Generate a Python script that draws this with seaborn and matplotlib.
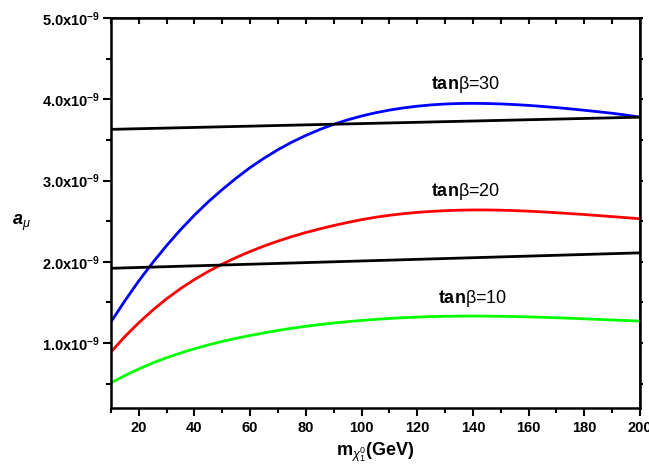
import numpy as np
import pandas as pd
import matplotlib
matplotlib.use("Agg")
import matplotlib.pyplot as plt
from matplotlib.ticker import MultipleLocator, FuncFormatter
import seaborn as sns

# Data (a_mu in units of 1e-9)
mass = [10, 15, 20, 25, 30, 35, 40, 45, 50, 55, 60, 65, 70, 75, 80, 85, 90, 95, 100,
        105, 110, 115, 120, 125, 130, 135, 140, 145, 150, 155, 160, 165, 170, 175, 180,
        185, 190, 195, 200]
tb30 = [1.26, 1.52, 1.765, 1.99, 2.20, 2.395, 2.575, 2.74, 2.89, 3.03, 3.16, 3.275, 3.38, 3.473,
        3.555, 3.628, 3.692, 3.747, 3.794, 3.834, 3.867, 3.894, 3.915, 3.931, 3.942, 3.948, 3.95,
        3.948, 3.943, 3.935, 3.925, 3.912, 3.898, 3.882, 3.865, 3.847, 3.828, 3.806, 3.78]
tb20 = [0.89, 1.08, 1.25, 1.405, 1.545, 1.67, 1.782, 1.882, 1.972, 2.053, 2.127, 2.194, 2.255,
        2.31, 2.36, 2.405, 2.446, 2.484, 2.518, 2.548, 2.572, 2.592, 2.608, 2.62, 2.629, 2.635,
        2.638, 2.638, 2.635, 2.63, 2.623, 2.614, 2.604, 2.593, 2.582, 2.569, 2.556, 2.543, 2.53]
tb10 = [0.51, 0.60, 0.68, 0.755, 0.82, 0.877, 0.93, 0.977, 1.02, 1.058, 1.093, 1.125, 1.155,
        1.182, 1.206, 1.227, 1.246, 1.263, 1.278, 1.291, 1.302, 1.312, 1.319, 1.325, 1.329, 1.331,
        1.332, 1.331, 1.329, 1.326, 1.322, 1.317, 1.311, 1.305, 1.298, 1.291, 1.284, 1.277, 1.27]
band_x = [10, 200]
band_upper = [3.63, 3.78]
band_lower = [1.92, 2.11]
labels = ["tanβ=30", "tanβ=20", "tanβ=10"]
label_pos = [(125, 4.18), (125, 2.86), (127.5, 1.55)]

sns.set_theme(style="ticks")
plt.rcParams['font.family'] = ['Liberation Sans', 'DejaVu Sans']
plt.rcParams['mathtext.fontset'] = 'custom'
plt.rcParams['mathtext.rm'] = 'Liberation Sans'
plt.rcParams['mathtext.it'] = 'Liberation Sans:italic'
plt.rcParams['mathtext.bf'] = 'Liberation Sans:bold'
plt.rcParams['mathtext.bfit'] = 'Liberation Sans:bold:italic'
for k in ['text.color', 'axes.labelcolor', 'xtick.color', 'ytick.color']:
    plt.rcParams[k] = 'black'

df = pd.concat([
    pd.DataFrame({"m": mass, "a": tb30, "s": "30"}),
    pd.DataFrame({"m": mass, "a": tb20, "s": "20"}),
    pd.DataFrame({"m": mass, "a": tb10, "s": "10"}),
])
df["a"] = df["a"] * 1e-9

fig = plt.figure(figsize=(6.49, 4.75), dpi=100)
ax = fig.add_axes([0.171, 0.141, 0.815, 0.821])

sns.lineplot(data=df, x="m", y="a", hue="s", palette={"30": "#0000ff", "20": "#ff0000", "10": "#00ff00"},
             linewidth=2, legend=False, ax=ax)
for yy in (band_upper, band_lower):
    sns.lineplot(x=band_x, y=np.array(yy) * 1e-9, color="black", linewidth=2, ax=ax)

for lab, (lx, ly) in zip(labels, label_pos):
    ax.text(lx, ly * 1e-9, r"$\mathbf{tan}$β=" + lab.split("=")[1], fontsize=13, ha="left", va="center")

ax.set_xlim(10, 200)
ax.set_ylim(0.2e-9, 5.0e-9)
ax.xaxis.set_major_locator(MultipleLocator(20))
ax.xaxis.set_minor_locator(MultipleLocator(10))
ax.yaxis.set_major_locator(MultipleLocator(1e-9))
ax.yaxis.set_minor_locator(MultipleLocator(0.5e-9))
ax.yaxis.set_major_formatter(FuncFormatter(lambda v, p: r"$\mathbf{%.1fx10^{-9}}$" % (v * 1e9)))
ax.xaxis.set_major_formatter(FuncFormatter(lambda v, p: "%d" % round(v)))

ax.tick_params(which="both", direction="out", width=1.5, color="black")
ax.tick_params(which="major", length=6)
ax.tick_params(which="minor", length=3.5)
ax.tick_params(axis="x", labelsize=10.5, pad=3)
ax.tick_params(axis="y", labelsize=10.5, pad=2)
for lab in ax.get_xticklabels():
    lab.set_fontweight("bold")

# top: inward ticks; right: tiny outward ticks
sec_t = ax.secondary_xaxis("top")
sec_t.xaxis.set_major_locator(MultipleLocator(20))
sec_t.xaxis.set_minor_locator(MultipleLocator(10))
sec_t.tick_params(which="both", direction="in", labeltop=False, width=1.5, length=4, color="black")
sec_r = ax.secondary_yaxis("right")
sec_r.yaxis.set_major_locator(MultipleLocator(1e-9))
sec_r.yaxis.set_minor_locator(MultipleLocator(0.5e-9))
sec_r.tick_params(which="both", direction="out", labelright=False, width=1.5, length=2, color="black")

for sp in ax.spines.values():
    sp.set_visible(True)
    sp.set_linewidth(1.8)
    sp.set_color("black")

ax.set_xlabel(r"$\mathbf{m}_{\chi^{0}_{1}}$" + r"$\mathbf{(GeV)}$", fontsize=13, labelpad=4)
ax.set_ylabel(r"$\mathbfit{a}_{\mu}$", fontsize=13, rotation=0, va="center")
ax.yaxis.set_label_coords(-0.17, 0.475)

fig.savefig("out.png", dpi=100)
